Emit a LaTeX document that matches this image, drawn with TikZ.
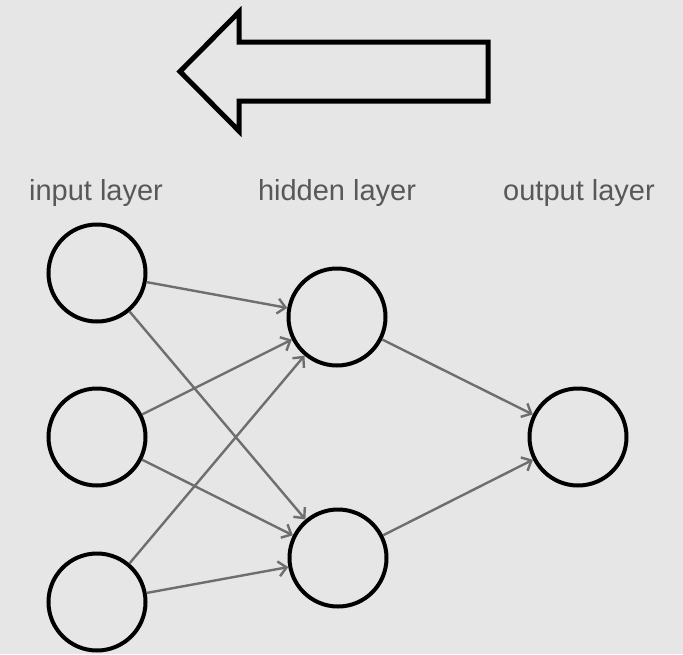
\documentclass[tikz,border=0pt]{standalone}
\usepackage{fontspec}
\setmainfont{Liberation Sans}
\usetikzlibrary{arrows.meta}
\definecolor{bgc}{HTML}{E6E6E6}
\definecolor{labelc}{HTML}{585858}
\definecolor{edgec}{HTML}{6E6E6E}
\begin{document}
\begin{tikzpicture}[x=1pt,y=-1pt,
  neuron/.style={circle,draw=black,line width=4pt,minimum size=97pt,inner sep=0pt},
  layerlabel/.style={text=labelc,font=\fontsize{29}{31}\selectfont,inner sep=0pt},
  link/.style={draw=edgec,line width=2.4pt,-{Straight Barb[length=8pt,width=15pt,line width=2.4pt]}},
  bigarrow/.style={draw=black,line width=5pt,line join=miter}]
  \fill[bgc] (0,0) rectangle (683,654);
  \useasboundingbox (0,0) rectangle (683,654);

  % direction arrow
  \draw[bigarrow] (180,71.5) -- (239,12) -- (239,42) -- (488,42) -- (488,101)
    -- (239,101) -- (239,131) -- cycle;

  % layer labels
  \node[layerlabel] (lin)  at (96,193)  {input layer};
  \node[layerlabel] (lhid) at (337,193) {hidden layer};
  \node[layerlabel] (lout) at (579,193) {output layer};

  % neurons
  \node[neuron] (i1) at (97,273) {};
  \node[neuron] (i2) at (97,437) {};
  \node[neuron] (i3) at (97,602) {};
  \node[neuron] (h1) at (337,317) {};
  \node[neuron] (h2) at (338,558) {};
  \node[neuron] (o1) at (578,437) {};

  % connections
  \foreach \a in {i1,i2,i3}
    \foreach \b in {h1,h2}
      \draw[link] (\a) -- (\b);
  \draw[link] (h1) -- (o1);
  \draw[link] (h2) -- (o1);
\end{tikzpicture}
\end{document}
